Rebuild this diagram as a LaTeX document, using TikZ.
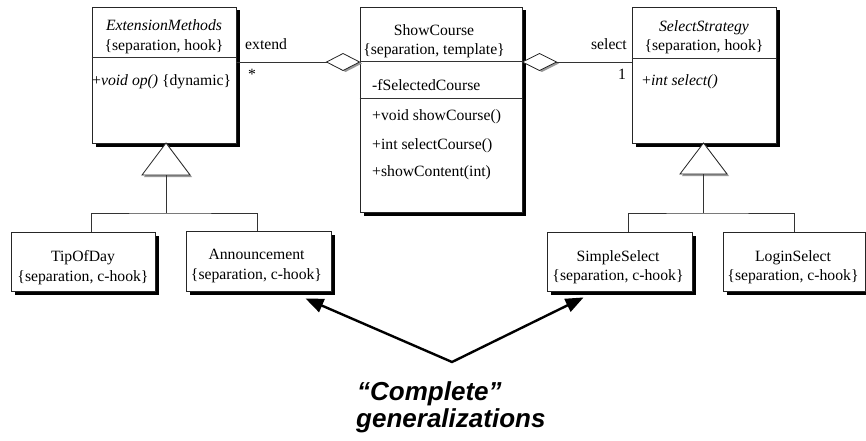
\documentclass[tikz,border=0pt]{standalone}
\usepackage{fontspec}
\setmainfont{Liberation Serif}
\newfontfamily\notefont{Liberation Sans}
\usetikzlibrary{shadows,calc,arrows.meta}

\tikzset{
  umlfont/.style={font=\fontsize{15.7}{18}\selectfont},
  classbox/.style={draw=black!85, line width=0.9pt, fill=white, inner sep=0pt,
    general shadow={fill=black, shadow xshift=3.5pt, shadow yshift=-3.5pt}},
  lbl/.style={umlfont, inner sep=0pt, anchor=base},
  lblw/.style={lbl, anchor=base west},
  lble/.style={lbl, anchor=base east},
  conn/.style={draw=black!80, line width=0.8pt},
  divider/.style={draw=black!80, line width=0.8pt},
  headshade/.style={fill=black!40},
  head/.style={draw=black!85, line width=0.8pt, fill=white, line join=miter},
  callout/.style={line width=2.4pt, line join=miter,
    {Triangle[length=18pt,width=14pt]}-{Triangle[length=18pt,width=14pt]}},
  note/.style={font=\notefont\fontsize{26}{28}\selectfont\bfseries\itshape,
    inner sep=0pt, anchor=base west}
}

\begin{document}
\begin{tikzpicture}[x=1pt, y=-1pt]
\path[use as bounding box, fill=white] (0,0) rectangle (866,441);

% ---------- class boxes ----------
\node[classbox, minimum width=144pt, minimum height=136pt] (ext)  at (164,75) {};
\node[classbox, minimum width=162pt, minimum height=205pt] (show) at (441,109.5) {};
\node[classbox, minimum width=144pt, minimum height=136pt] (sel)  at (704,75) {};

\node[classbox, minimum width=144pt, minimum height=59pt] (tip) at (83,261.5) {};
\node[classbox, minimum width=145pt, minimum height=60pt] (ann) at (258.5,261) {};
\node[classbox, minimum width=145pt, minimum height=59pt] (ss)  at (619.5,261.5) {};
\node[classbox, minimum width=142pt, minimum height=59pt] (ls)  at (794,261.5) {};

% compartment dividers
\draw[divider] (ext.west |- 0,57) -- (ext.east |- 0,57);
\draw[divider] (show.west |- 0,61) -- (show.east |- 0,61);
\draw[divider] (show.west |- 0,98) -- (show.east |- 0,98);
\draw[divider] (sel.west |- 0,58) -- (sel.east |- 0,58);

% ---------- class texts ----------
\node[lbl] (extName) at (164,30.5) {\itshape ExtensionMethods};
\node[lbl] (extTag)  at (164,51) {\{separation, hook\}};
\node[lblw] (extOp)  at (92,86) {+\textit{void op()} \{dynamic\}};

\node[lbl] (showName) at (434,36) {ShowCourse};
\node[lbl] (showTag)  at (434,54.5) {\{separation, template\}};
\node[lblw] (showAttr) at (372,90.5) {-fSelectedCourse};
\node[lblw] (showOp1)  at (372,120.5) {+void showCourse()};
\node[lblw] (showOp2)  at (372,149) {+int selectCourse()};
\node[lblw] (showOp3)  at (372,176.5) {+showContent(int)};

\node[lbl] (selName) at (704,31.5) {\itshape SelectStrategy};
\node[lbl] (selTag)  at (704,51) {\{separation, hook\}};
\node[lblw] (selOp)  at (642,86) {+\textit{int select()}};

\node[lbl] (tipName) at (83,261.5) {TipOfDay};
\node[lbl] (tipTag)  at (83,281) {\{separation, c-hook\}};
\node[lbl] (annName) at (256.5,259.5) {Announcement};
\node[lbl] (annTag)  at (256.5,279) {\{separation, c-hook\}};
\node[lbl] (ssName)  at (618,261) {SimpleSelect};
\node[lbl] (ssTag)   at (618,280) {\{separation, c-hook\}};
\node[lbl] (lsName)  at (793,261) {LoginSelect};
\node[lbl] (lsTag)   at (793,280) {\{separation, c-hook\}};

% ---------- aggregations ----------
\coordinate (dl) at (show.west |- 0,62);
\fill[headshade] ([shift={(2.5,1.5)}]dl) -- ++(-16.5,-8.5) -- ++(-16.5,8.5) -- ++(16.5,8.5) -- cycle;
\draw[head] (dl) -- ++(-16.5,-8.5) -- ++(-16.5,8.5) coordinate (dlL) -- ++(16.5,8.5) -- cycle;
\draw[conn] (ext.east |- dl) -- (dlL);

\coordinate (dr) at (show.east |- 0,62);
\fill[headshade] ([shift={(2.5,1.5)}]dr) -- ++(17,-8.5) -- ++(17,8.5) -- ++(-17,8.5) -- cycle;
\draw[head] (dr) -- ++(17,-8.5) -- ++(17,8.5) coordinate (drR) -- ++(-17,8.5) -- cycle;
\draw[conn] (drR) -- (sel.west |- dr);

\node[lblw] (extRole) at (245,50) {extend};
\node[lblw] (extMult) at (248,80) {*};
\node[lble] (selRole) at (627,50) {select};
\node[lbl]  (selMult) at (622,80) {1};

% ---------- generalizations ----------
\coordinate (extApex) at (166,143);
\fill[headshade] ([shift={(2,2)}]extApex) -- ++(24,32) -- ++(-48,0) -- cycle;
\draw[head] (extApex) -- ++(24,32) -- ++(-24,0) coordinate (extTri) -- ++(-24,0) -- cycle;
\coordinate (extJ) at (166,213);
\draw[conn] (extTri) -- (extJ);
\draw[conn] ([xshift=8pt]tip.north) |- (extJ) -| ([xshift=-1.5pt]ann.north);

\coordinate (selApex) at (703.5,143);
\fill[headshade] ([shift={(2,2)}]selApex) -- ++(23.5,31) -- ++(-47,0) -- cycle;
\draw[head] (selApex) -- ++(23.5,31) -- ++(-23.5,0) coordinate (selTri) -- ++(-23.5,0) -- cycle;
\coordinate (selJ) at (703.5,213);
\draw[conn] (selTri) -- (selJ);
\draw[conn] ([xshift=8.5pt]ss.north) |- (selJ) -| (ls.north);

% ---------- note ----------
\coordinate (annTip) at ($(ann.south east)+(-26,7)$);
\coordinate (ssTip)  at ($(ss.south west)+(37,6)$);
\coordinate (apex)   at (452,362);
\draw[callout] (annTip) -- (apex) -- (ssTip);

\node[note] (note1) at (357,400.5) {“Complete”};
\node[note] (note2) at (356,427.5) {generalizations};
\end{tikzpicture}
\end{document}
